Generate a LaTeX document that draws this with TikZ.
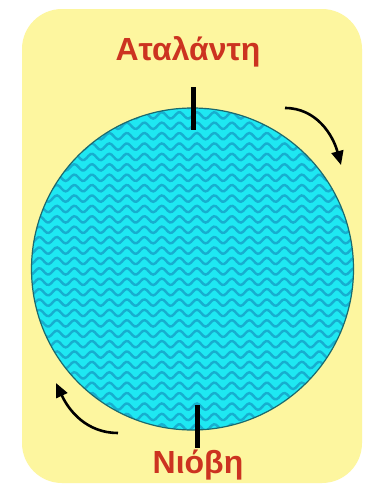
\documentclass[tikz,border=0pt]{standalone}
\usepackage{fontspec}
\setmainfont{Liberation Sans}
\usetikzlibrary{arrows.meta}
\definecolor{bgyellow}{HTML}{FDF69F}
\definecolor{watercyan}{HTML}{1EE8F2}
\definecolor{wavedark}{HTML}{17AECF}
\definecolor{rimteal}{HTML}{1B6A6E}
\definecolor{labelred}{HTML}{CC3320}
\tikzset{
  panel/.style={fill=bgyellow, rounded corners=40pt},
  disc/.style={circle, inner sep=0pt, minimum size=322pt, fill=watercyan},
  rim/.style={draw=rimteal, line width=1.2pt},
  wave/.style={draw=wavedark, line width=2.4pt},
  label/.style={text=labelred, font=\bfseries\fontsize{32}{34}\selectfont, anchor=base, inner sep=0pt},
  tickmark/.style={line width=5pt, black},
  turn/.style={line width=2.6pt, black, -{Triangle[length=14pt,width=12pt]}}
}
\begin{document}
\begin{tikzpicture}[x=1pt,y=-1pt]
\useasboundingbox (0,0) rectangle (366,493);
\fill[white] (0,0) rectangle (366,493);
\fill[panel] (22,9) rectangle (362,483);
\node[disc] (disc) at (192.5,269) {};
\begin{scope}
  \clip (disc.center) circle (161pt);
  \foreach \r in {0,...,32}{
    \pgfmathsetmacro{\yy}{105+\r*10.4}
    \draw[wave] plot[domain=28:360, samples=160, smooth] (\x, {\yy - 3.2*sin(20.5714*\x)});
  }
\end{scope}
\draw[rim] (disc.center) circle (161pt);
\node[label] (atalanti) at (188,60) {Αταλάντη};
\node[label] (niovi) at (198,473) {Νιόβη};
\coordinate (ttop) at (193,87);
\coordinate (tbot) at (193,130);
\draw[tickmark] (ttop) -- (tbot);
\coordinate (btop) at (197,405);
\coordinate (bbot) at (197,448);
\draw[tickmark] (btop) -- (bbot);
\coordinate (a1s) at (285,108);
\coordinate (a1e) at (341,165);
\draw[turn] (a1s) to[out=0,in=105] (a1e);
\coordinate (a2s) at (118,433);
\coordinate (a2e) at (56,383);
\draw[turn] (a2s) to[out=180,in=-65] (a2e);
\end{tikzpicture}
\end{document}
